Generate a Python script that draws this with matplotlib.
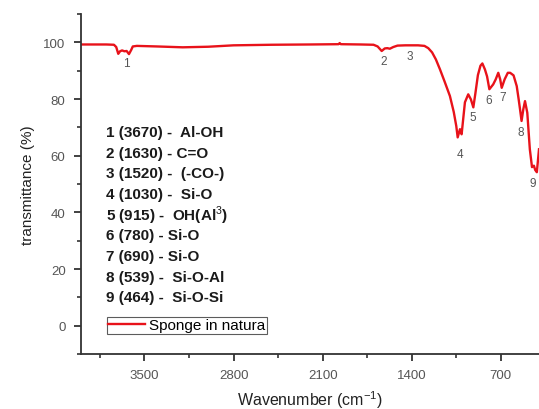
import matplotlib
matplotlib.use("Agg")
import matplotlib.pyplot as plt
from matplotlib.ticker import MultipleLocator

plt.rcParams['font.family'] = ['Liberation Sans', 'DejaVu Sans']
plt.rcParams['mathtext.fontset'] = 'custom'
plt.rcParams['mathtext.rm'] = 'Liberation Sans'
plt.rcParams['mathtext.bf'] = 'Liberation Sans:bold'

# FTIR spectrum, sponge in natura
wavenumber = [4000, 3800, 3740, 3722, 3706, 3692, 3676, 3658, 3640, 3622, 3604,
              3592, 3560, 3400, 3200, 3000, 2800, 2500, 2200, 1975, 1966,
              1958, 1800, 1700, 1668, 1636, 1612, 1592, 1572, 1545, 1512,
              1450, 1350, 1300, 1270, 1240, 1210, 1178, 1140, 1100, 1070,
              1050, 1039, 1021, 1008, 982, 956, 935, 916, 900, 880, 860, 845,
              825, 808, 790, 760, 740, 720, 705, 693, 670, 645, 627, 600, 575,
              560, 549, 537, 523, 510, 492, 472, 455, 440, 430, 417, 400]
transmittance = [99.3, 99.3, 99.2, 98.4, 96.0, 96.9, 97.2, 96.9, 97.0, 95.9, 97.4,
                 98.6, 98.8, 98.6, 98.3, 98.5, 99.0, 99.2, 99.3, 99.4, 99.8,
                 99.4, 99.3, 99.2, 98.6, 97.0, 97.9, 98.0, 97.8, 98.4, 98.9,
                 99.0, 99.0, 98.8, 98.0, 96.5, 94.0, 90.5, 86.0, 81.1, 75.5,
                 70.5, 66.5, 69.4, 67.6, 78.9, 81.7, 79.9, 77.1, 82.0, 88.5, 91.8, 92.6,
                 90.5, 88.0, 83.5, 85.2, 87.0, 89.3, 87.0, 84.0, 87.0, 89.3, 89.3, 88.4, 84.6,
                 80.0, 76.4, 72.3, 76.5, 79.3, 75.2, 62.3, 56.0, 56.5, 55.0, 54.2, 62.3]

peak_labels = ['1', '2', '3', '4', '5', '6', '7', '8', '9']
peak_x = [3642, 1619, 1414, 1021, 919, 793, 683, 541, 446]
peak_y = [92.6, 93.3, 95.1, 60.6, 73.6, 79.6, 80.6, 68.3, 50.4]

assignments = ['1 (3670) -  Al-OH',
               '2 (1630) - C=O',
               '3 (1520) -  (-CO-)',
               '4 (1030) -  Si-O',
               r'5 (915) -  OH(Al$^{3}$)',
               '6 (780) - Si-O',
               '7 (690) - Si-O',
               '8 (539) -  Si-O-Al',
               '9 (464) -  Si-O-Si']

fig = plt.figure(figsize=(5.39, 4.10), dpi=100)
ax = fig.add_axes([0.150, 0.134, 0.850, 0.829])

ax.plot(wavenumber, transmittance, color='#e8121a', lw=1.7, label='Sponge in natura')

for lab, px, py in zip(peak_labels, peak_x, peak_y):
    ax.text(px, py, lab, fontsize=8.5, color='#555555', ha='center', va='center')

for i, line in enumerate(assignments):
    fig.text(0.196, 0.676 - i * 0.0505, line, fontsize=11, fontweight='bold',
             color='#1a1a1a', va='center', ha='left')

ax.set_xlim(4000, 400)
ax.set_ylim(-10, 110)
ax.xaxis.set_major_locator(MultipleLocator(700))
ax.xaxis.set_minor_locator(MultipleLocator(350))
ax.yaxis.set_major_locator(MultipleLocator(20))
ax.yaxis.set_minor_locator(MultipleLocator(10))
ax.set_xticks([3500, 2800, 2100, 1400, 700])

for side in ['top', 'right']:
    ax.spines[side].set_visible(False)
for side in ['left', 'bottom']:
    ax.spines[side].set_color('#333333')
    ax.spines[side].set_linewidth(1.3)

ax.tick_params(which='major', direction='out', length=5, width=1.3,
               color='#333333', labelcolor='#555555', labelsize=9.5, pad=6)
ax.tick_params(which='minor', direction='out', length=3, width=1.2, color='#333333')

ax.set_xlabel('Wavenumber (cm$^{-1}$)', fontsize=11.5, color='#222222', labelpad=5)
ax.set_ylabel('transmittance (%)', fontsize=11, color='#222222', labelpad=6)

leg = ax.legend(loc='lower left', bbox_to_anchor=(0.057, 0.059), fontsize=11,
                frameon=True, fancybox=False, handlelength=2.4, borderpad=0.1,
                handletextpad=0.25, borderaxespad=0)
leg.get_frame().set_edgecolor('#333333')
leg.get_frame().set_linewidth(0.8)

fig.savefig('out.png', dpi=100)
